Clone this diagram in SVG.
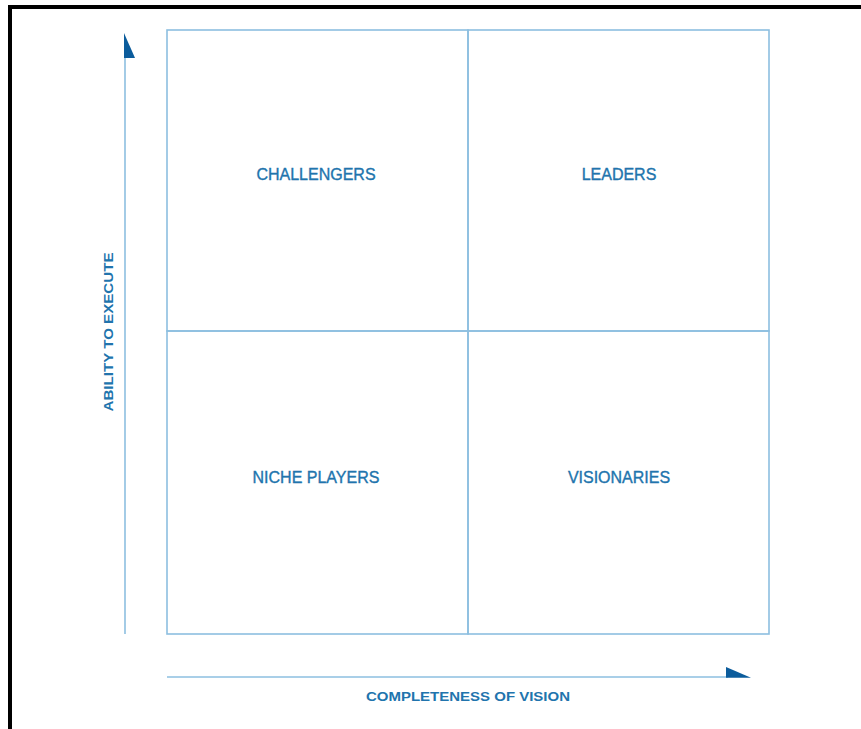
<svg xmlns="http://www.w3.org/2000/svg" width="861" height="729" viewBox="0 0 861 729">
<style>
.grid{fill:none;stroke:#8dbfe0;stroke-width:1.6}
.axis{stroke:#8dbfe0;stroke-width:1.6}
.head{fill:#0b5c9c}
.q{font-family:"Liberation Sans",Arial,sans-serif;font-size:16px;fill:#2174ad;stroke:#2174ad;stroke-width:0.35;text-anchor:middle}
.ax{font-family:"Liberation Sans",Arial,sans-serif;font-size:13.5px;font-weight:bold;fill:#2174ad;text-anchor:middle}
</style>
<rect width="861" height="729" fill="#ffffff"/>
<path d="M10 729 V7 H861" fill="none" stroke="#000" stroke-width="4"/>
<g id="quadrants">
<g id="challengers"><rect class="grid" x="167" y="30" width="301" height="301"/><text class="q" x="316" y="180">CHALLENGERS</text></g>
<g id="leaders"><rect class="grid" x="468" y="30" width="301" height="301"/><text class="q" x="619" y="180">LEADERS</text></g>
<g id="niche"><rect class="grid" x="167" y="331" width="301" height="303"/><text class="q" x="316" y="483">NICHE PLAYERS</text></g>
<g id="visionaries"><rect class="grid" x="468" y="331" width="301" height="303"/><text class="q" x="619" y="483">VISIONARIES</text></g>
</g>
<g id="connectors">
<line class="axis" x1="125" y1="634" x2="125" y2="56"/>
<polygon class="head" points="124,33 124,58 135,58"/>
<line class="axis" x1="167" y1="677" x2="728" y2="677"/>
<polygon class="head" points="726,667 726,677.8 751,677.8"/>
</g>
<g id="labels">
<text class="ax" x="468" y="701" textLength="204" lengthAdjust="spacingAndGlyphs">COMPLETENESS OF VISION</text>
<text class="ax" transform="translate(113,332) rotate(-90)" x="0" y="0" textLength="159" lengthAdjust="spacingAndGlyphs">ABILITY TO EXECUTE</text>
</g>
</svg>
